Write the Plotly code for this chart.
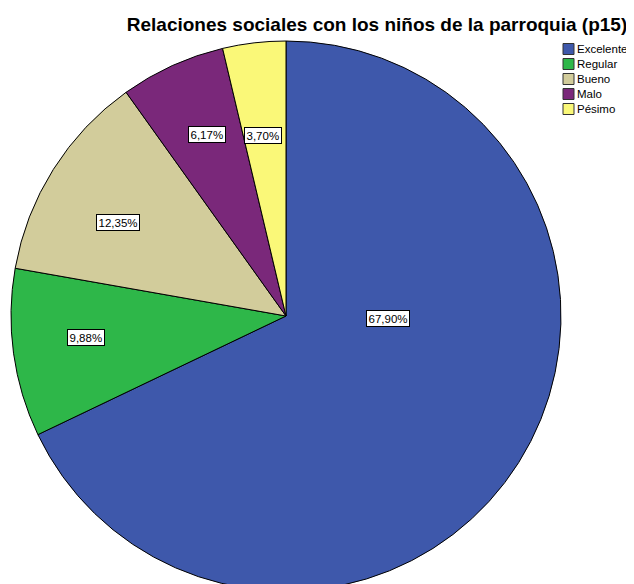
import math
import plotly.graph_objects as go

# ---- data ----
categories = ["Excelente", "Regular", "Bueno", "Malo", "Pésimo"]
counts = [55, 8, 10, 5, 3]
colors = ["#3E58AB", "#2EB749", "#D2CC9B", "#7A287A", "#FAF878"]
title_text = "Relaciones sociales con los niños de la parroquia (p15)"

# ---- layout geometry (pixels, figure coordinates; page body adds 8px offset) ----
W, H = 634, 600
CX, CY, R = 278, 308, 275
FONT = "Liberation Sans, Arial, sans-serif"

total = sum(counts)
pcts = [c / total * 100 for c in counts]
labels_txt = [f"{p:.2f}".replace(".", ",") + "%" for p in pcts]

fig = go.Figure()
fig.add_trace(go.Pie(
    labels=categories, values=counts, sort=False, direction="clockwise", rotation=0,
    marker=dict(colors=colors, line=dict(color="#000000", width=1)),
    textinfo="none", hoverinfo="label+percent", showlegend=False,
    domain=dict(x=[(CX - R) / W, (CX + R) / W], y=[(H - CY - R) / H, (H - CY + R) / H]),
))

# label placement style: (radial fraction, angle nudge in degrees from slice mid-angle)
label_style = {"Excelente": (0.37, -31), "Regular": (0.73, 1.5), "Bueno": (0.70, -3),
               "Malo": (0.72, 1), "Pésimo": (0.66, -0.7)}
annotations = []
cum = 0.0
for cat, cnt, txt in zip(categories, counts, labels_txt):
    start = cum / total * 360
    cum += cnt
    end = cum / total * 360
    rf, nudge = label_style.get(cat, (0.70, 0))
    ang = (start + end) / 2 + nudge
    px = CX + rf * R * math.sin(math.radians(ang))
    py = CY - rf * R * math.cos(math.radians(ang))
    annotations.append(dict(
        x=px / W, y=1 - py / H, xref="paper", yref="paper", text=txt, showarrow=False,
        font=dict(family=FONT, size=11.5, color="#000000"),
        bgcolor="#FFFFFF", bordercolor="#000000", borderwidth=1, borderpad=1.5,
        xanchor="center", yanchor="middle",
    ))

# compact legend
shapes = []
LX, LY0, LSTEP, SW = 555, 41, 15, 11
for i, (cat, col) in enumerate(zip(categories, colors)):
    yc = LY0 + i * LSTEP
    shapes.append(dict(type="rect", xref="paper", yref="paper",
                       x0=LX / W, x1=(LX + SW) / W,
                       y0=1 - (yc + SW / 2) / H, y1=1 - (yc - SW / 2) / H,
                       fillcolor=col, line=dict(color="#333333", width=1)))
    annotations.append(dict(
        x=(LX + SW + 1) / W, y=1 - yc / H, xref="paper", yref="paper", text=cat,
        showarrow=False, xanchor="left", yanchor="middle",
        font=dict(family=FONT, size=11.5, color="#000000"),
    ))

fig.update_layout(
    width=W, height=H,
    margin=dict(l=0, r=0, t=0, b=0),
    paper_bgcolor="#FFFFFF", plot_bgcolor="#FFFFFF",
    title=dict(text="<b>" + title_text + "</b>", x=369 / W, xanchor="center",
               y=1 - 16.5 / H, yanchor="middle",
               font=dict(family=FONT, size=19, color="#000000")),
    annotations=annotations, shapes=shapes,
)

fig.write_html("out.html")
